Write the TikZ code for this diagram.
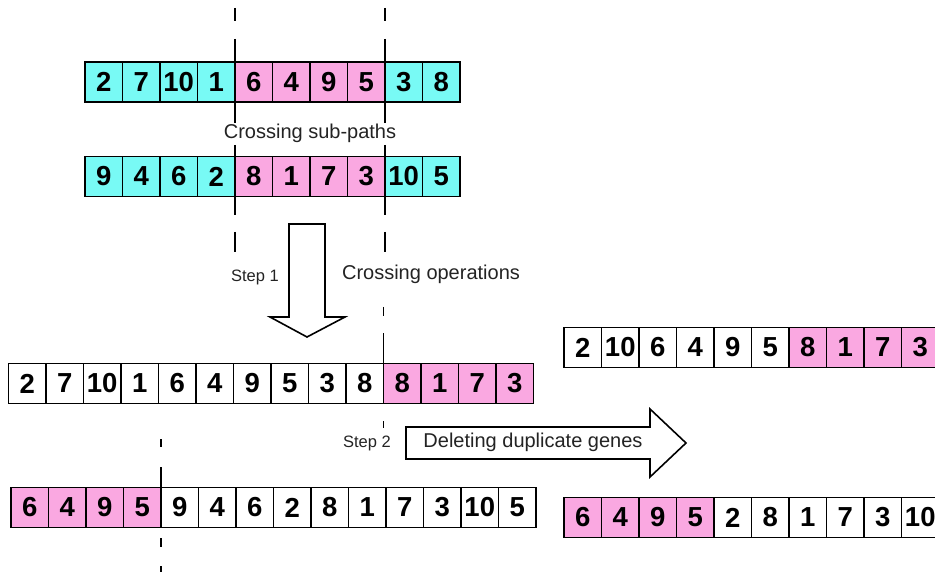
\documentclass[tikz,border=0pt]{standalone}
\usepackage{fontspec}
\setmainfont{Liberation Sans}
\definecolor{cyanc}{RGB}{120,250,245}
\definecolor{pinkc}{RGB}{250,168,225}
\definecolor{txt}{RGB}{35,35,35}
\tikzset{
  cell/.style={draw=black, line width=1.6pt, minimum width=37.5pt, minimum height=40pt,
    inner sep=0pt, font=\fontsize{27.5}{27.5}\selectfont\bfseries},
  cutline/.style={line width=1.6pt},
  lbl/.style={font=\fontsize{20}{20}\selectfont, text=txt, inner sep=0pt},
  steplbl/.style={font=\fontsize{16.5}{16.5}\selectfont, text=txt, inner sep=0pt},
  bigarrow/.style={draw=black, line width=1.6pt, fill=white, line join=miter},
}
\newcommand\generow[4]{%
  \foreach [count=\i] \s/\v in {#4} {
    \node[cell, fill=\s] (#1-\i) at ({#2+(\i-0.5)*37.5}, #3) {\v};
  }%
}
\begin{document}
\begin{tikzpicture}[x=1pt, y=-1pt]
\useasboundingbox (0,0) rectangle (935,572);
\clip (0,0) rectangle (935,572);

% parent 1
\generow{pa}{85}{82}{cyanc/2,cyanc/7,cyanc/10,cyanc/1,pinkc/6,pinkc/4,pinkc/9,pinkc/5,cyanc/3,cyanc/8}
% parent 2
\generow{pb}{85}{176.5}{cyanc/9,cyanc/4,cyanc/6,cyanc/2,pinkc/8,pinkc/1,pinkc/7,pinkc/3,cyanc/10,cyanc/5}
% child 1 after crossing
\generow{ca}{8.5}{383.5}{white/2,white/7,white/10,white/1,white/6,white/4,white/9,white/5,white/3,white/8,pinkc/8,pinkc/1,pinkc/7,pinkc/3}
% child 2 after crossing
\generow{cb}{11}{507.5}{pinkc/6,pinkc/4,pinkc/9,pinkc/5,white/9,white/4,white/6,white/2,white/8,white/1,white/7,white/3,white/10,white/5}
% results
\generow{ra}{564}{347.5}{white/2,white/10,white/6,white/4,white/9,white/5,pinkc/8,pinkc/1,pinkc/7,pinkc/3}
\generow{rb}{564}{517.5}{pinkc/6,pinkc/4,pinkc/9,pinkc/5,white/2,white/8,white/1,white/7,white/3,white/10}

% cut lines
\foreach \a/\b in {8/21,39/123,145/215,232/252}{
  \draw[cutline] (235,\a) -- (235,\b);
  \draw[cutline] (385,\a) -- (385,\b);
}
\foreach \a/\b in {307/316,333/364,421/428}{
  \draw[cutline] (383.5,\a) -- (383.5,\b);
}
\foreach \a/\b in {439/447,467/488,538/547,566/572}{
  \draw[cutline] (161,\a) -- (161,\b);
}

% arrows
\draw[bigarrow] (289,224) -- (325,224) -- (325,317) -- (345,317) -- (307,337)
  -- (270,317) -- (289,317) -- cycle;
\draw[bigarrow] (406,427) -- (650,427) -- (650,409) -- (686,443) -- (650,477)
  -- (650,459) -- (406,459) -- cycle;

% labels
\node[lbl] (subpaths) at (310,133) {Crossing sub-paths};
\node[steplbl] (step1) at (255,277) {Step 1};
\node[lbl] (crossop) at (431,274) {Crossing operations};
\node[steplbl] (step2) at (367,443) {Step 2};
\node[lbl] (deldup) at (533,442) {Deleting duplicate genes};
\end{tikzpicture}
\end{document}
